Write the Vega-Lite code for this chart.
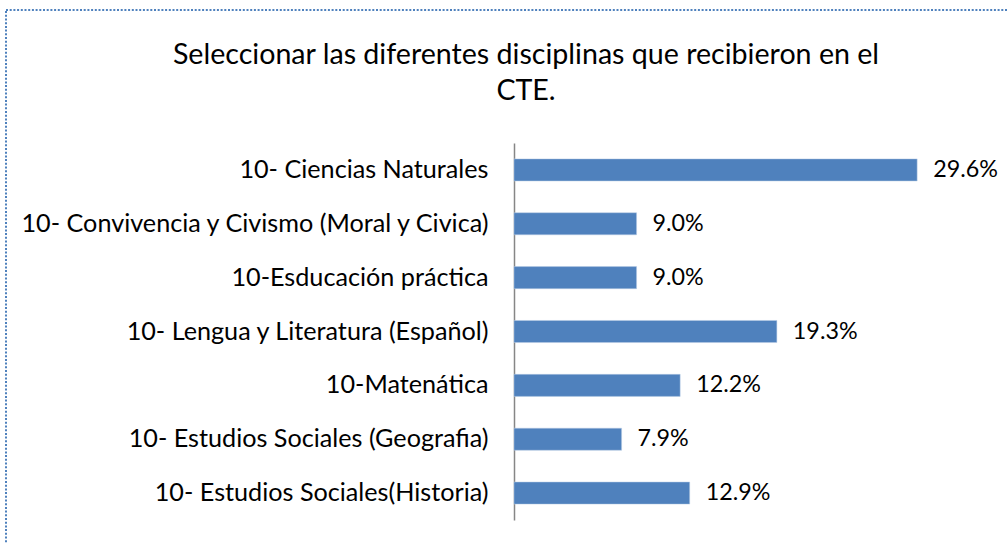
{
  "$schema": "https://vega.github.io/schema/vega-lite/v6.json",
  "autosize": {"type": "none"},
  "padding": {"left": 6, "top": 10, "right": 0, "bottom": 0},
  "width": 1010,
  "height": 540,
  "background": "white",
  "title": {
    "text": ["Seleccionar las diferentes disciplinas que recibieron en el", "CTE."],
    "font": "Lato",
    "fontSize": 28.6,
    "fontWeight": "normal",
    "color": "black",
    "anchor": "middle",
    "frame": "group",
    "lineHeight": 36,
    "offset": -96,
    "dx": 15
  },
  "data": {
    "values": [
      {"disciplina": "10- Ciencias Naturales", "pct": 0.296},
      {"disciplina": "10- Convivencia y Civismo (Moral y Civica)", "pct": 0.090},
      {"disciplina": "10-Esducación práctica", "pct": 0.090},
      {"disciplina": "10- Lengua y Literatura (Español)", "pct": 0.193},
      {"disciplina": "10-Matenática", "pct": 0.122},
      {"disciplina": "10- Estudios Sociales (Geografia)", "pct": 0.079},
      {"disciplina": "10- Estudios Sociales(Historia)", "pct": 0.129}
    ]
  },
  "encoding": {
    "y": {
      "field": "disciplina",
      "type": "nominal",
      "sort": null,
      "scale": {"paddingInner": 0.59, "paddingOuter": 0.295, "range": [133, 510]},
      "axis": {
        "orient": "left",
        "offset": -508,
        "title": null,
        "domain": true,
        "domainColor": "#868686",
        "domainWidth": 1.5,
        "ticks": false,
        "grid": false,
        "labelPadding": 26,
        "labelFont": "Lato",
        "labelFontSize": 25.2,
        "labelColor": "black",
        "labelLimit": 0
      }
    }
  },
  "layer": [
    {
      "mark": {"type": "bar", "color": "#4F81BD", "stroke": "#B9CDE5", "strokeWidth": 0.5},
      "encoding": {
        "x": {
          "field": "pct",
          "type": "quantitative",
          "scale": {"domain": [-0.37298, 0.36858], "nice": false, "zero": false},
          "axis": null
        }
      }
    },
    {
      "mark": {"type": "text", "align": "left", "baseline": "middle", "dx": 16, "font": "Lato", "fontSize": 23.3, "color": "black"},
      "encoding": {
        "x": {"field": "pct", "type": "quantitative"},
        "text": {"field": "pct", "type": "quantitative", "format": ".1%"}
      }
    }
  ],
  "config": {
    "view": {"stroke": "#4F81BD", "strokeWidth": 2, "strokeDash": [2, 1.7]}
  }
}
